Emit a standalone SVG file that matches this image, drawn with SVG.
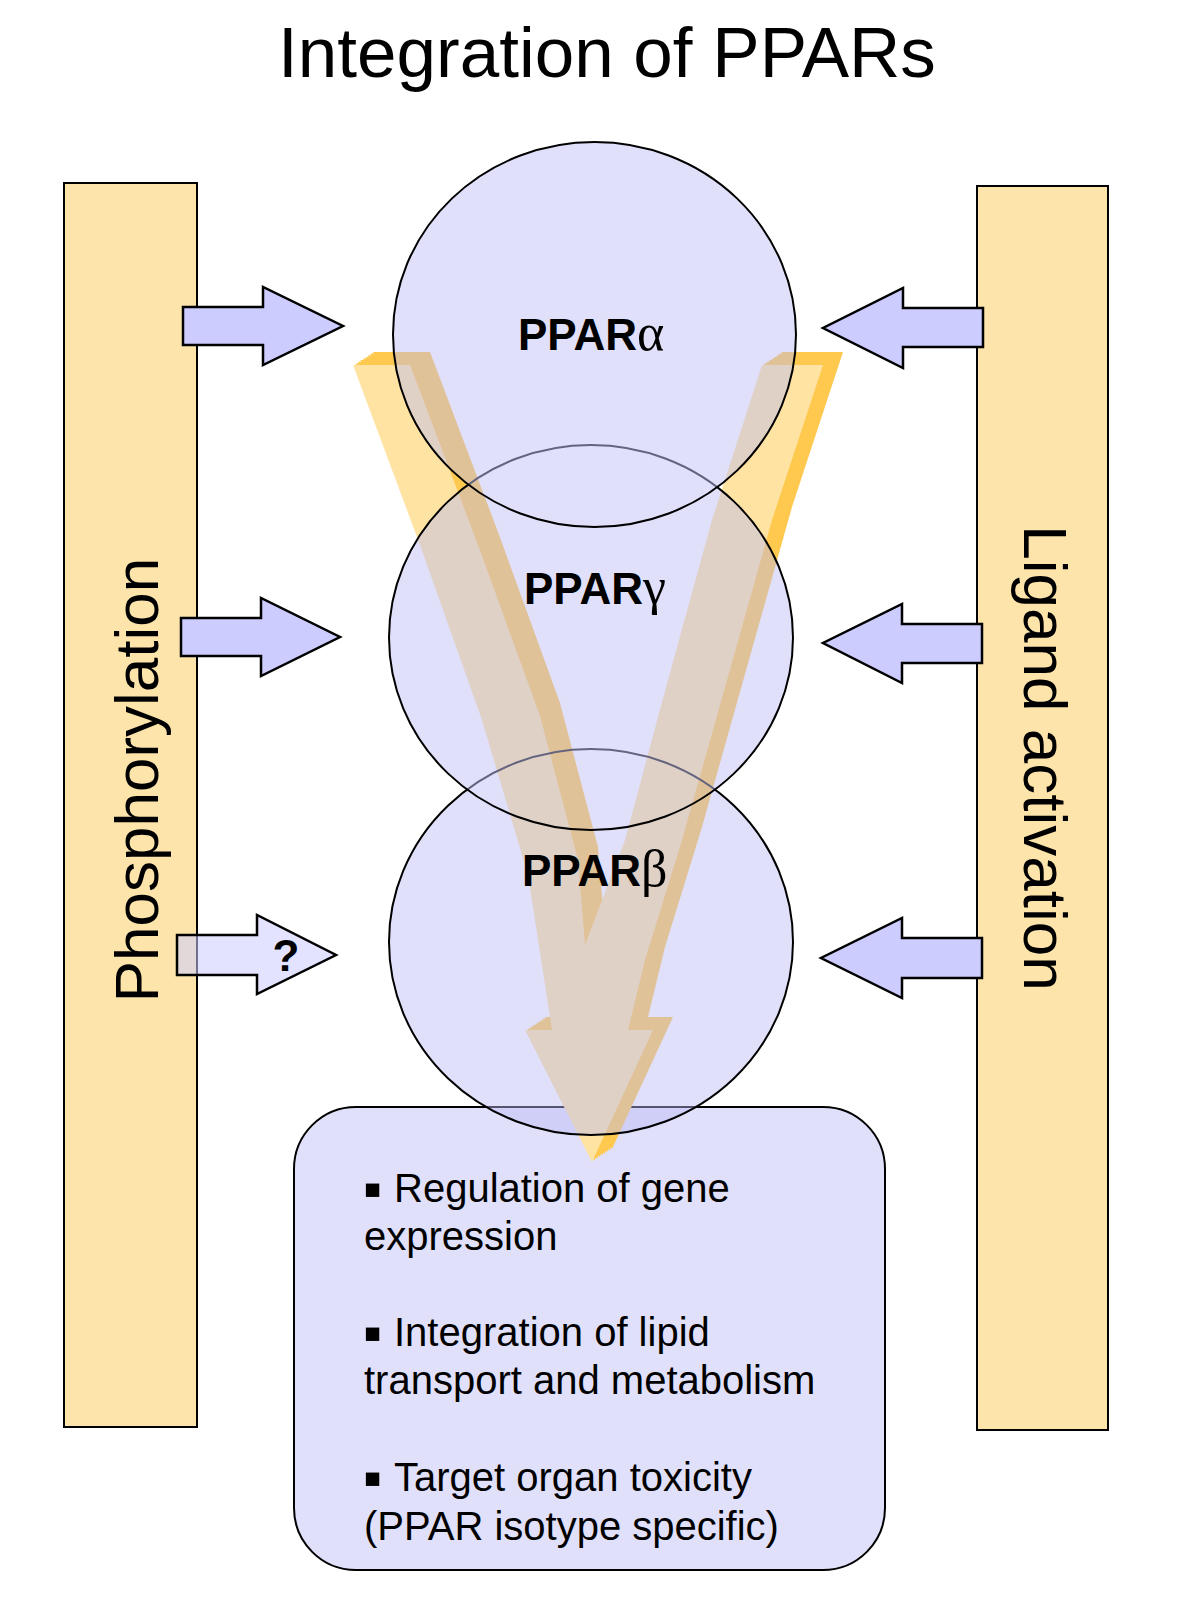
<svg xmlns="http://www.w3.org/2000/svg" width="1200" height="1604" viewBox="0 0 1200 1604">
<style>
.bar{fill:#FDE4AB;stroke:#000;stroke-width:2}
.ring{fill:none;stroke:#000;stroke-width:2}
.ringfade{fill:none;stroke:#64647E;stroke-width:2}
.arr{fill:#CCCCFF;stroke:#000;stroke-width:2.5}
.lbl{font-family:"Liberation Sans",Arial,sans-serif;font-weight:bold;font-size:44px;fill:#000}
.greek{font-family:"Liberation Serif","Times New Roman",serif;font-weight:normal;font-size:52px}
.side{font-family:"Liberation Sans",Arial,sans-serif;font-size:62px;fill:#000}
.body{font-family:"Liberation Sans",Arial,sans-serif;font-size:40px;fill:#000}
.bul{font-size:54px}
.ext{fill:#FFC94F}
</style>
<defs>
<path id="vshape" d="M353,365 L420,545 L482,720 L528,875 L552,1030 L525,1030 L592,1162 L653,1030 L628,1030 L645,960 L682,840 L727,680 L772,520 L823,365 L762,365 L712,520 L668,680 L625,840 L585,945 L578,860 L540,716 L478,545 L410,365 Z"/>
<ellipse id="eA" cx="594.5" cy="334.5" rx="201.5" ry="192.5"/>
<ellipse id="eG" cx="591" cy="637.5" rx="202" ry="192.5"/>
<ellipse id="eB" cx="591" cy="942" rx="202" ry="193"/>
<clipPath id="inA"><use href="#eA"/></clipPath>
<clipPath id="inG"><use href="#eG"/></clipPath>
<mask id="outA" maskUnits="userSpaceOnUse" x="0" y="0" width="1200" height="1604"><rect x="0" y="0" width="1200" height="1604" fill="#fff"/><use href="#eA" fill="#000"/></mask>
<mask id="outG" maskUnits="userSpaceOnUse" x="0" y="0" width="1200" height="1604"><rect x="0" y="0" width="1200" height="1604" fill="#fff"/><use href="#eG" fill="#000"/></mask>
</defs>
<rect x="0" y="0" width="1200" height="1604" fill="#FFFFFF"/>
<text x="607" y="77" text-anchor="middle" font-family="Liberation Sans, Arial, sans-serif" font-size="71">Integration of PPARs</text>

<g id="bar-phosphorylation">
<rect class="bar" x="64" y="183" width="133" height="1244"/>
<text class="side" transform="translate(158,780) rotate(-90)" text-anchor="middle">Phosphorylation</text>
</g>
<g id="bar-ligand">
<rect class="bar" x="977" y="186" width="131" height="1244"/>
<text class="side" transform="translate(1024,758) rotate(90)" text-anchor="middle">Ligand activation</text>
</g>

<g id="outcome-box">
<rect x="294" y="1107" width="591" height="463" rx="62" ry="62" fill="#E0E0FA" stroke="#000" stroke-width="2"/>
<text class="body" x="363" y="1202"><tspan class="bul" dy="5">▪</tspan><tspan x="394" dy="-5">Regulation of gene</tspan></text>
<text class="body" x="364" y="1250">expression</text>
<text class="body" x="363" y="1346"><tspan class="bul" dy="5">▪</tspan><tspan x="394" dy="-5">Integration of lipid</tspan></text>
<text class="body" x="364" y="1394">transport and metabolism</text>
<text class="body" x="363" y="1491"><tspan class="bul" dy="5">▪</tspan><tspan x="394" dy="-5">Target organ toxicity</tspan></text>
<text class="body" x="364" y="1540">(PPAR isotype specific)</text>
</g>

<g id="connectors">
<g id="convergence-arrow">
<use href="#vshape" class="ext" transform="translate(20,-13)"/>
<use href="#vshape" class="ext" transform="translate(17.5,-11.4)"/>
<use href="#vshape" class="ext" transform="translate(15,-9.75)"/>
<use href="#vshape" class="ext" transform="translate(12.5,-8.1)"/>
<use href="#vshape" class="ext" transform="translate(10,-6.5)"/>
<use href="#vshape" class="ext" transform="translate(7.5,-4.9)"/>
<use href="#vshape" class="ext" transform="translate(5,-3.25)"/>
<use href="#vshape" class="ext" transform="translate(2.5,-1.6)"/>
<use href="#vshape" fill="#FFE3A3"/>
</g>
<path class="arr" d="M183,307 L263,307 L263,287 L343,326 L263,365 L263,345 L183,345 Z"/>
<path class="arr" d="M181,618 L261,618 L261,598 L340,637 L261,676 L261,656 L181,656 Z"/>
<path class="arr" fill-opacity="0.55" d="M177,935 L257,935 L257,915 L336,955 L257,994 L257,975 L177,975 Z"/>
<text x="286" y="971" text-anchor="middle" font-family="Liberation Sans, Arial, sans-serif" font-weight="bold" font-size="44">?</text>
<path class="arr" d="M983,308 L903,308 L903,288 L823,328 L903,368 L903,347 L983,347 Z"/>
<path class="arr" d="M982,624 L902,624 L902,604 L823,643 L902,683 L902,663 L982,663 Z"/>
<path class="arr" d="M982,938 L902,938 L902,918 L821,958 L902,998 L902,978 L982,978 Z"/>
</g>

<g id="circle-fills">
<path fill="#BABAF5" fill-opacity="0.45" d="M393,334.5 a201.5,192.5 0 1,0 403,0 a201.5,192.5 0 1,0 -403,0 Z M389,637.5 a202,192.5 0 1,0 404,0 a202,192.5 0 1,0 -404,0 Z M389,942 a202,193 0 1,0 404,0 a202,193 0 1,0 -404,0 Z"/>
</g>

<g id="ppar-beta">
<use href="#eB" class="ring" mask="url(#outG)"/>
<use href="#eB" class="ringfade" clip-path="url(#inG)"/>
<text class="lbl" x="522" y="886">PPAR<tspan class="greek">β</tspan></text>
</g>
<g id="ppar-gamma">
<use href="#eG" class="ring" mask="url(#outA)"/>
<use href="#eG" class="ringfade" clip-path="url(#inA)"/>
<text class="lbl" x="524" y="604">PPAR<tspan class="greek">γ</tspan></text>
</g>
<g id="ppar-alpha">
<use href="#eA" class="ring"/>
<text class="lbl" x="518" y="350">PPAR<tspan class="greek">α</tspan></text>
</g>
</svg>
